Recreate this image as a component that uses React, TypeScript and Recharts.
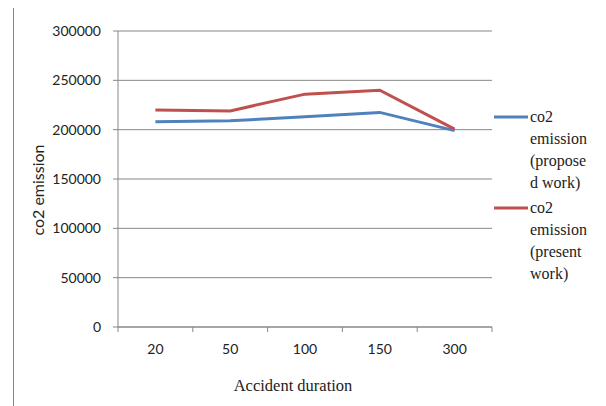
import { LineChart, Line, XAxis, YAxis, CartesianGrid } from "recharts";

const durations = ["20", "50", "100", "150", "300"];
const proposedWork = [208000, 209000, 213000, 217500, 199000];
const presentWork = [220000, 219000, 236000, 240000, 200500];
const emissionTicks = [0, 50000, 100000, 150000, 200000, 250000, 300000];

// legend labels, broken the way the narrow legend column wraps them
const proposedLegend = ["co2", "emission", "(propose", "d work)"];
const presentLegend = ["co2", "emission", "(present", "work)"];

const BLUE = "#4F81BD";
const RED = "#C0504D";
const GRID = "#878787";
const INK = "#222";
const SANS = "Lato, sans-serif";
const SERIF = "Liberation Serif, serif";

const WIDTH = 606;
const HEIGHT = 406;
const MARGIN = { top: 31, right: 114, left: 13, bottom: 15 };
const Y_AXIS_W = 105;
const TICK_SIZE = 5;
const TICK_GAP = 12;
// half of one category slot; ticks sit on slot edges, labels in the middle
const HALF_SLOT = (WIDTH - MARGIN.left - MARGIN.right - Y_AXIS_W) / durations.length / 2;

function DurationTick(props: any) {
  const { x, y, payload, index } = props;
  const axisY = y - TICK_SIZE - TICK_GAP;
  const edge = (ex: number) => (
    <line x1={ex} x2={ex} y1={axisY} y2={axisY + TICK_SIZE} stroke={GRID} />
  );
  return (
    <g>
      {edge(x - HALF_SLOT)}
      {index === durations.length - 1 && edge(x + HALF_SLOT)}
      <text
        x={x}
        y={y}
        dy="0.71em"
        textAnchor="middle"
        fill={INK}
        fontSize={14}
        fontFamily={SANS}
      >
        {payload.value}
      </text>
    </g>
  );
}

function LegendBlock({ lines, color, top }: { lines: string[]; color: string; top: number }) {
  return (
    <g>
      <line x1={494} x2={528} y1={top} y2={top} stroke={color} strokeWidth={3} />
      {lines.map((t, i) => (
        <text
          key={i}
          x={530}
          y={top + 5 + i * 22}
          fontFamily={SERIF}
          fontSize={16}
          fill={INK}
        >
          {t}
        </text>
      ))}
    </g>
  );
}

export default function App() {
  const data = durations.map((d, i) => ({
    duration: d,
    proposed: proposedWork[i],
    present: presentWork[i],
  }));

  return (
    <div
      style={{
        position: "relative",
        width: WIDTH,
        height: HEIGHT,
        margin: "-8px 0 0 -8px",
        overflow: "hidden",
        background: "#fff",
      }}
    >
      <div
        style={{
          position: "absolute",
          left: 13,
          top: 6,
          width: 589,
          height: 420,
          border: `1.5px solid ${GRID}`,
          boxSizing: "border-box",
        }}
      />
      <div style={{ position: "absolute", left: 0, top: 0 }}>
        <LineChart width={WIDTH} height={HEIGHT} data={data} margin={MARGIN}>
          <CartesianGrid vertical={false} stroke={GRID} strokeWidth={1} />
          <XAxis
            dataKey="duration"
            padding={{ left: HALF_SLOT, right: HALF_SLOT }}
            axisLine={{ stroke: GRID }}
            tickLine={false}
            tickSize={TICK_SIZE}
            tickMargin={TICK_GAP}
            height={64}
            interval={0}
            tick={<DurationTick />}
            label={{
              value: "Accident duration",
              position: "insideBottom",
              offset: 0,
              dx: -12,
              style: { fill: INK, fontSize: 16.5, fontFamily: SERIF },
            }}
          />
          <YAxis
            domain={[0, 300000]}
            ticks={emissionTicks}
            width={Y_AXIS_W}
            axisLine={{ stroke: GRID }}
            tickLine={{ stroke: GRID }}
            tickSize={TICK_SIZE}
            tickMargin={TICK_GAP}
            tick={{ fill: INK, fontSize: 14, fontFamily: SANS }}
            label={{
              value: "co2 emission",
              angle: -90,
              position: "insideLeft",
              offset: 25,
              dy: 11,
              style: { textAnchor: "middle", fill: INK, fontSize: 16, fontFamily: SANS },
            }}
          />
          <Line
            type="linear"
            dataKey="proposed"
            stroke={BLUE}
            strokeWidth={3}
            dot={false}
            isAnimationActive={false}
          />
          <Line
            type="linear"
            dataKey="present"
            stroke={RED}
            strokeWidth={3}
            dot={false}
            isAnimationActive={false}
          />
        </LineChart>
      </div>
      <svg
        width={WIDTH}
        height={HEIGHT}
        style={{ position: "absolute", left: 0, top: 0, pointerEvents: "none" }}
      >
        <LegendBlock lines={proposedLegend} color={BLUE} top={117} />
        <LegendBlock lines={presentLegend} color={RED} top={208} />
      </svg>
    </div>
  );
}
